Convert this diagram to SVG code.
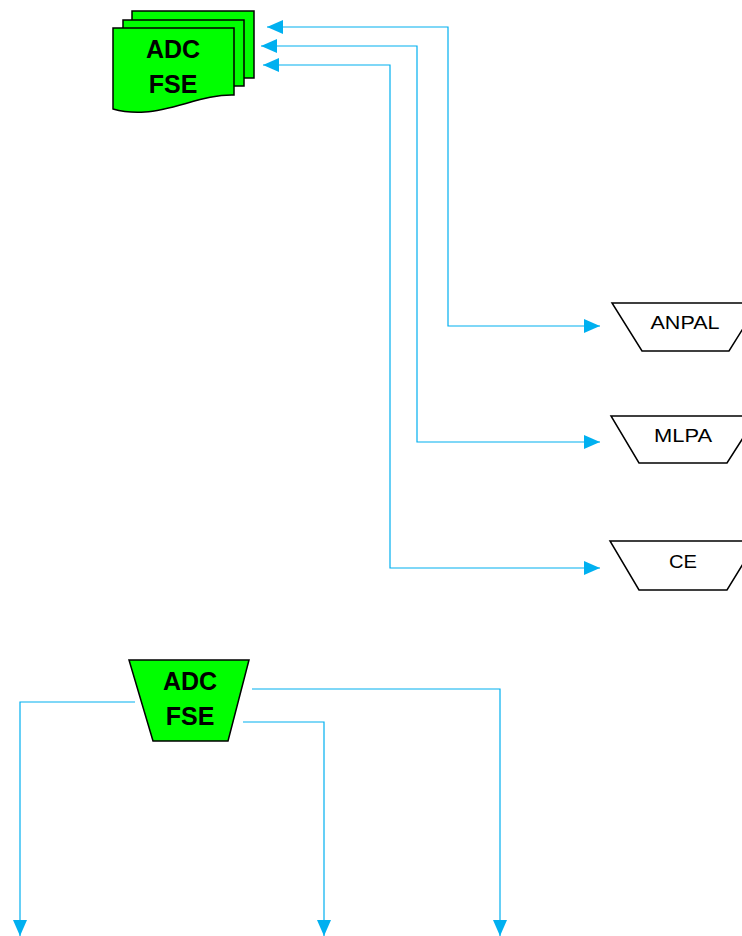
<svg xmlns="http://www.w3.org/2000/svg" width="742" height="936" viewBox="0 0 742 936">
<style>
.doc{fill:#00ff00;stroke:#000;stroke-width:1.5}
.op{fill:#fff;stroke:#000;stroke-width:1.5}
.opg{fill:#00ff00;stroke:#000;stroke-width:1.5}
.big{font-family:"Liberation Sans",Arial,sans-serif;font-weight:bold;font-size:25px;text-anchor:middle;fill:#000}
.lbl{font-family:"Liberation Sans",Arial,sans-serif;font-size:19px;text-anchor:middle;fill:#000}
.c{fill:none;stroke:#00b0f0;stroke-width:1.2}
</style>
<defs>
<marker id="ah" markerUnits="userSpaceOnUse" markerWidth="16" markerHeight="14" refX="16" refY="7" orient="auto-start-reverse">
<path d="M0,0 L16,7 L0,14 Z" fill="#00b0f0"/>
</marker>
</defs>
<rect width="742" height="936" fill="#fff"/>
<g id="connectors">
<polyline class="c" points="267,27 448,27 448,326 600,326" marker-start="url(#ah)" marker-end="url(#ah)"/>
<polyline class="c" points="261,46 417,46 417,442 600,442" marker-start="url(#ah)" marker-end="url(#ah)"/>
<polyline class="c" points="263,65 390,65 390,568 600,568" marker-start="url(#ah)" marker-end="url(#ah)"/>
<polyline class="c" points="135,702 20,702 20,936" marker-end="url(#ah)"/>
<polyline class="c" points="243,722 324,722 324,936" marker-end="url(#ah)"/>
<polyline class="c" points="252,689 500,689 500,936" marker-end="url(#ah)"/>
</g>
<g id="adc-fse-docs">
<rect class="doc" x="132" y="11" width="122" height="67"/>
<rect class="doc" x="123" y="20" width="121" height="66"/>
<path class="doc" d="M113,28 H234 V95 C205,94 175,110 145,112 C130,113 120,111 113,109 Z"/>
<text class="big" x="173" y="58">ADC</text>
<text class="big" x="173" y="93">FSE</text>
</g>
<g id="anpal">
<polygon class="op" points="612,303 759,303 729,351 642,351"/>
<text class="lbl" x="685" y="329" textLength="69" lengthAdjust="spacingAndGlyphs">ANPAL</text>
</g>
<g id="mlpa">
<polygon class="op" points="611,416 757,416 727,463 639,463"/>
<text class="lbl" x="683" y="442" textLength="58" lengthAdjust="spacingAndGlyphs">MLPA</text>
</g>
<g id="ce">
<polygon class="op" points="610,541 757,541 727,590 639,590"/>
<text class="lbl" x="683" y="568" textLength="28" lengthAdjust="spacingAndGlyphs">CE</text>
</g>
<g id="adc-fse-op">
<polygon class="opg" points="129,660 249,660 228,741 153,741"/>
<text class="big" x="190" y="690">ADC</text>
<text class="big" x="190" y="725">FSE</text>
</g>
</svg>
